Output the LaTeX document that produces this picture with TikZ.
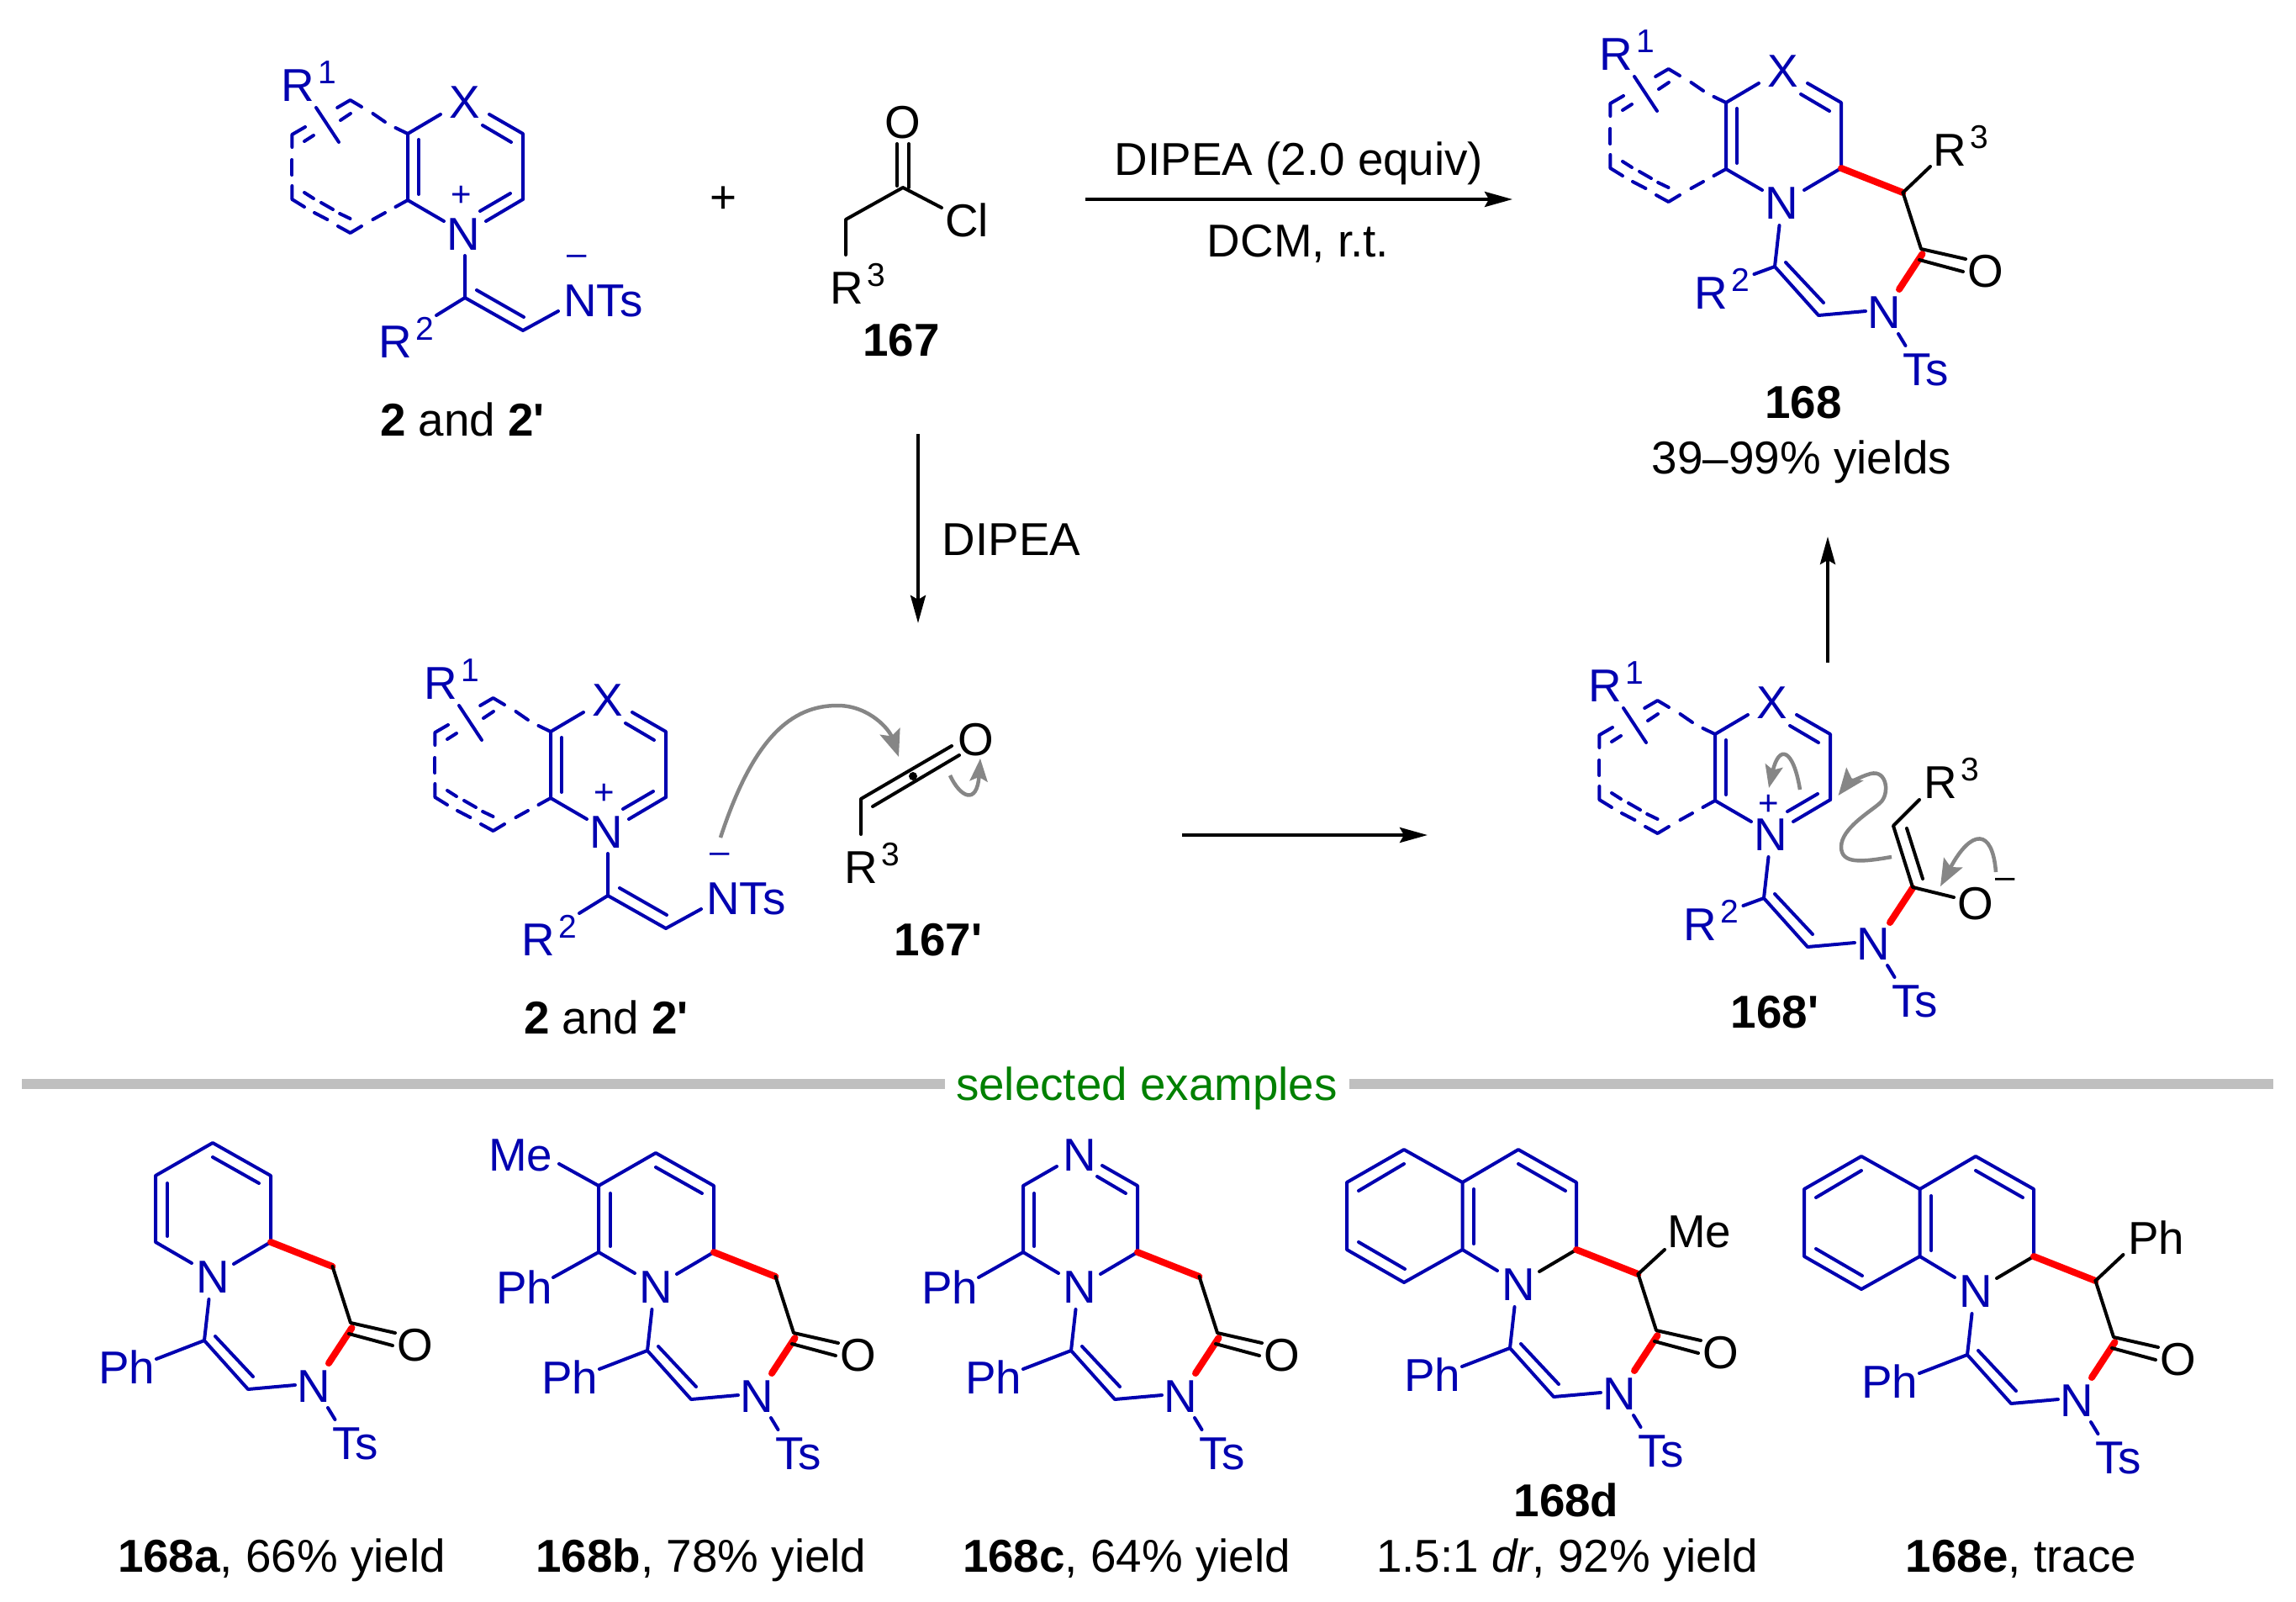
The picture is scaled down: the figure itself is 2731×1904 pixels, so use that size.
\documentclass[tikz,border=0pt]{standalone}
\usepackage{fontspec}
\setmainfont{Liberation Sans}[Ligatures=TeXOff]
\usetikzlibrary{arrows.meta}
\definecolor{chemblue}{RGB}{0,0,176}
\definecolor{chemred}{RGB}{255,0,0}
\definecolor{chemgrey}{RGB}{134,134,134}
\definecolor{rulegrey}{RGB}{191,191,191}
\definecolor{chemgreen}{RGB}{0,128,0}
\tikzset{
  bb/.style={draw=chemblue,line width=4pt,line cap=round,line join=round},
  kb/.style={draw=black,line width=4pt,line cap=round,line join=round},
  rb/.style={draw=chemred,line width=8pt,line cap=round},
  rxn/.style={draw=black,line width=4pt,-{Stealth[length=33pt,width=18pt,inset=5pt]}},
  cur/.style={draw=chemgrey,line width=4.5pt,-{Stealth[length=32pt,width=25pt,inset=6pt]}},
  curs/.style={draw=chemgrey,line width=4.5pt,-{Stealth[length=27pt,width=21pt,inset=5pt]}},
  lb/.style={inner sep=0pt,font=\fontsize{54.8}{60}\selectfont,text=chemblue},
  lk/.style={inner sep=0pt,font=\fontsize{54.8}{60}\selectfont,text=black},
  lg/.style={inner sep=0pt,font=\fontsize{54.8}{60}\selectfont,text=chemgreen},
  chg/.style={inner sep=0pt,font=\fontsize{42}{44}\selectfont,text=chemblue,anchor=base},
}
\newcommand\suprs[1]{\kern5pt\raisebox{21pt}{\fontsize{39}{40}\selectfont #1}}
% dashed ring with X, N and R1 (positions relative to the N)
\newcommand\quin{%
  \node[lb] (N) at (-2,0) {N};
  \node[lb] (X) at (0,-157) {X};
  \node[lb,anchor=base west] (Rone) at (-219,-159) {R\suprs{1}};
  \draw[bb] (-25,-16) -- (-68,-41) -- (-68,-120) -- (-29,-143);
  \draw[bb] (-55,-113) -- (-55,-48);
  \draw[bb] (29,-143) -- (69,-120) -- (69,-42);
  \draw[bb] (21,-130) -- (55,-110);
  \draw[bb] (-177,-151) -- (-150,-110);
  \draw[bb] (-82.5,-127) -- (-68,-120);
  \draw[bb] (-95,-134) -- (-109.5,-144);
  \draw[bb] (-123,-152) -- (-136.4,-160) -- (-151.8,-151);
  \draw[bb] (-136,-144) -- (-148,-136);
  \draw[bb] (-190,-128) -- (-205.6,-119) -- (-205.6,-104);
  \draw[bb] (-180,-118) -- (-191,-111);
  \draw[bb] (-205.6,-89) -- (-205.6,-71);
  \draw[bb] (-205.6,-58) -- (-205.6,-42) -- (-191,-33);
  \draw[bb] (-191,-50) -- (-180,-43);
  \draw[bb] (-179,-26) -- (-163.6,-18);
  \draw[bb] (-171,-38) -- (-157,-30);
  \draw[bb] (-148.9,-25) -- (-136.4,-19);
  \draw[bb] (-151,-10) -- (-136.4,-2) -- (-123,-10);
  \draw[bb] (-109.5,-18) -- (-95,-26);
  \draw[bb] (-82.5,-33) -- (-68,-41);
}
% pyridinium right side with plus sign
\newcommand\catside[1]{%
  \draw[bb] (69,-42) -- (25,-16);
  \draw[bb] (54,-49) -- (18,-28);
  \node[chg] (Pl) at (-4,#1) {+};
}
% N-vinyl ylide below the ring
\newcommand\ylide{%
  \draw[bb] (0,25) -- (0,75) -- (69,114) -- (111,91);
  \draw[bb] (14,66) -- (70,98);
  \draw[bb] (-34,96) -- (0,75);
  \node[lb,anchor=base west] (NTs) at (117,97) {NTs};
  \node[lb,anchor=base west] (Rtwo) at (-103,146) {R\suprs{2}};
  \node[chg] (Mi) at (133,36) {–};
}
% left half of the seven-membered ring
\newcommand\sevenL{%
  \draw[bb] (-4.5,26) -- (-10,75) -- (42,133) -- (98,128);
  \draw[bb] (3,70) -- (48,118);
  \node[lb] (Nb) at (120,130) {N};
  \draw[bb] (137,155) -- (145.5,169);
  \node[lb,anchor=base west] (Ts) at (142,216) {Ts};
}
% right half: new C-C bond, carbonyl, new C-N bond
\newcommand\sevenR{%
  \draw[rb] (69,-42) -- (142.5,-13);
  \draw[rb] (165.5,60) -- (138,102);
  \draw[kb] (142.5,-13) -- (164,54) -- (217,66);
  \draw[kb] (162,67) -- (214,81);
  \node[lk] (Oa) at (241,81) {O};
}
\newcommand\phbond{%
  \draw[bb] (-67,97) -- (-10,75);
  \node[lb,anchor=base west] (Phb) at (-136,126) {Ph};
}
\newcommand\pyridineR{%
  \draw[bb] (-25,-17) -- (-68,-42) -- (-68,-121) -- (0,-160) -- (69,-121) -- (69,-42) -- (25,-16);
  \draw[bb] (-54,-112) -- (-54,-49);
  \draw[bb] (0,-143) -- (55,-112);
  \node[lb] (Nc) at (0,0) {N};
}
\newcommand\benzoR{%
  \draw[bb] (-25,-17) -- (-66.5,-42) -- (-66.5,-122) -- (0,-161) -- (69,-122) -- (69,-42);
  \draw[kb] (69,-42) -- (25,-16);
  \draw[bb] (-53,-114) -- (-53,-49);
  \draw[bb] (0,-144) -- (56,-112);
  \draw[bb] (-66.5,-122) -- (-136,-161) -- (-204,-122) -- (-204,-42) -- (-136,-3) -- (-66.5,-42);
  \draw[bb] (-136,-144) -- (-190,-112);
  \draw[bb] (-190,-51) -- (-135,-19);
  \node[lb] (Nc) at (0,0) {N};
}
\begin{document}
\begin{tikzpicture}[x=1pt,y=-1pt]
\useasboundingbox (0,0) rectangle (2731,1904);
% ---------- top left
\begin{scope}[shift={(553,279)},name prefix=ta-]
  \quin \catside{-34} \ylide
\end{scope}
\node[lk,anchor=base] (lab2a) at (550,518) {\textbf{2} and \textbf{2'}};
\node[lk] (plus) at (860,238) {+};
% ---------- 167
\draw[kb] (1120,247) -- (1074,223) -- (1006,261) -- (1006,303);
\draw[kb] (1067,171) -- (1067,221);
\draw[kb] (1081,171) -- (1081,223);
\node[lk] (O167) at (1074,146) {O};
\node[lk,anchor=base west] (Cl167) at (1124,281) {Cl};
\node[lk,anchor=base west] (R167) at (987,361) {R\suprs{3}};
\node[lk,anchor=base] (lab167) at (1072,423) {\textbf{167}};
% ---------- top arrow
\coordinate (a1s) at (1291,237); \coordinate (a1e) at (1799,237);
\draw[rxn] (a1s) -- (a1e);
\node[lk,anchor=base] (c1) at (1545,208) {DIPEA (2.0 equiv)};
\node[lk,anchor=base] (c2) at (1544,305) {DCM, r.t.};
% ---------- 168
\begin{scope}[shift={(2121,242)},name prefix=tc-]
  \quin
  \draw[bb] (69,-42) -- (25,-16);
  \sevenL \sevenR
  \draw[bb] (-34.5,84) -- (-10,75);
  \node[lb,anchor=base west] (Rtwo) at (-106,125) {R\suprs{2}};
  \draw[kb] (142.5,-13) -- (175,-44);
  \node[lk,anchor=base west] (Rthree) at (178,-45) {R\suprs{3}};
\end{scope}
\node[lk,anchor=base] (lab168) at (2145,497) {\textbf{168}};
\node[lk,anchor=base] (yld168) at (2143,563) {39–99\% yields};
% ---------- other arrows
\coordinate (a2s) at (1092,516); \coordinate (a2e) at (1092,741);
\draw[rxn] (a2s) -- (a2e);
\node[lk,anchor=base] (c3) at (1203,660) {DIPEA};
\coordinate (a3s) at (1406,993); \coordinate (a3e) at (1698,993);
\draw[rxn] (a3s) -- (a3e);
\coordinate (a4s) at (2174,788); \coordinate (a4e) at (2174,638);
\draw[rxn] (a4s) -- (a4e);
% ---------- middle left
\begin{scope}[shift={(723,990)},name prefix=mb-]
  \quin \catside{-34} \ylide
\end{scope}
\node[lk,anchor=base] (lab2b) at (721,1229) {\textbf{2} and \textbf{2'}};
% ---------- 167'
\draw[kb] (1132,887) -- (1024,950) -- (1024,992);
\draw[kb] (1038,959) -- (1141,898);
\fill[black] (1086,923) circle (5pt);
\node[lk] (Ok) at (1161,880) {O};
\node[lk,anchor=base west] (Rk) at (1004,1050) {R\suprs{3}};
\node[lk,anchor=base] (lab167p) at (1116,1136) {\textbf{167'}};
\draw[cur] (857,996) .. controls (895,880) and (940,838) .. (998,839) .. controls (1035,840) and (1058,868) .. (1069,900);
\draw[curs] (1130,922) .. controls (1142,948) and (1162,958) .. (1166,902);
% ---------- 168'
\begin{scope}[shift={(2108,993)},name prefix=mp-]
  \quin \catside{-24}
  \sevenL
  \draw[bb] (-34.5,84) -- (-10,75);
  \node[lb,anchor=base west] (Rtwo) at (-106,125) {R\suprs{2}};
\end{scope}
\draw[rb] (2275,1056) -- (2248,1097);
\draw[kb] (2283,951) -- (2252,982) -- (2275,1055) -- (2324,1067);
\draw[kb] (2268,985) -- (2287,1045);
\node[lk] (Om) at (2350,1075) {O};
\node[lk,anchor=base] (Mm) at (2385,1056) {\fontsize{42}{44}\selectfont –};
\node[lk,anchor=base west] (Rm) at (2288,949) {R\suprs{3}};
\node[lk,anchor=base] (lab168p) at (2111,1222) {\textbf{168'}};
\draw[curs] (2141,939) .. controls (2133,890) and (2116,885) .. (2104,937);
\draw[cur] (2250,1019) .. controls (2215,1025) and (2190,1028) .. (2190,1007) .. controls (2190,985) and (2225,965) .. (2236,955) .. controls (2248,945) and (2245,915) .. (2225,920) .. controls (2210,924) and (2195,935) .. (2186.5,946);
\draw[cur] (2374,1037) .. controls (2370,985) and (2345,985) .. (2308,1054);
% ---------- divider
\fill[rulegrey] (26,1283) rectangle (1124,1295);
\fill[rulegrey] (1605,1283) rectangle (2704,1295);
\node[lg,anchor=base] (sel) at (1364,1308) {selected examples};
% ---------- 168a
\begin{scope}[shift={(253,1519)},name prefix=ea-]
  \pyridineR \sevenL \sevenR \phbond
\end{scope}
\node[lk,anchor=base] (laba) at (335,1869) {\textbf{168a}, 66\% yield};
% ---------- 168b
\begin{scope}[shift={(780,1531)},name prefix=eb-]
  \pyridineR \sevenL \sevenR \phbond
  \draw[bb] (-115,-147) -- (-68,-121);
  \node[lb,anchor=base west] (Me) at (-199,-139) {Me};
  \draw[bb] (-122,-12) -- (-68,-42);
  \node[lb,anchor=base west] (Pha) at (-190,19) {Ph};
\end{scope}
\node[lk,anchor=base] (labb) at (834,1869) {\textbf{168b}, 78\% yield};
% ---------- 168c
\begin{scope}[shift={(1284,1531)},name prefix=ec-]
  \draw[bb] (-25,-17) -- (-67,-42) -- (-67,-121) -- (-27,-144);
  \draw[bb] (27,-145) -- (69,-121) -- (69,-42) -- (25,-16);
  \draw[bb] (-54,-112) -- (-54,-49);
  \draw[bb] (21,-132) -- (55,-112);
  \node[lb] (Nc) at (0,0) {N};
  \node[lb] (Nt) at (0,-157) {N};
  \sevenL \sevenR \phbond
  \draw[bb] (-120,-12) -- (-67,-42);
  \node[lb,anchor=base west] (Pha) at (-188,19) {Ph};
\end{scope}
\node[lk,anchor=base] (labc) at (1340,1869) {\textbf{168c}, 64\% yield};
% ---------- 168d
\begin{scope}[shift={(1806,1528)},name prefix=ed-]
  \benzoR \sevenL \sevenR \phbond
  \draw[kb] (142.5,-13) -- (174,-42);
  \node[lk,anchor=base west] (Me) at (177,-45) {Me};
\end{scope}
\node[lk,anchor=base] (labd) at (1863,1803) {\textbf{168d}};
\node[lk,anchor=base] (labdd) at (1864,1869) {1.5:1 \textit{dr}, 92\% yield};
% ---------- 168e
\begin{scope}[shift={(2350,1536)},name prefix=ee-]
  \benzoR \sevenL \sevenR \phbond
  \draw[kb] (142.5,-13) -- (175.5,-44);
  \node[lk,anchor=base west] (Ph) at (181,-45) {Ph};
\end{scope}
\node[lk,anchor=base] (labe) at (2404,1869) {\textbf{168e}, trace};
\end{tikzpicture}
\end{document}
